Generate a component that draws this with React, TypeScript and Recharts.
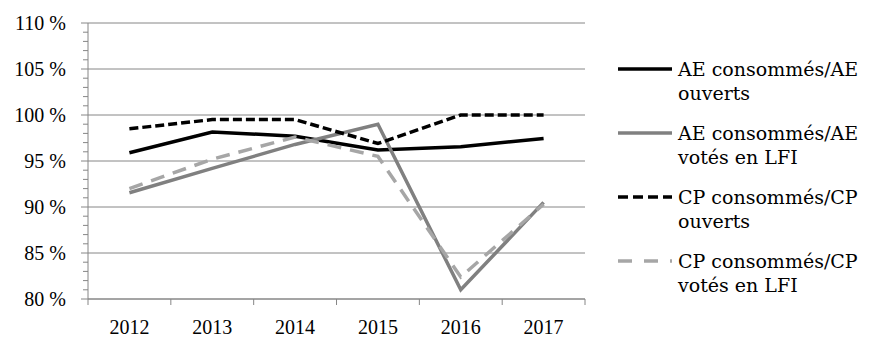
import React from 'react';
import { LineChart, Line, XAxis, YAxis, CartesianGrid, Legend } from 'recharts';

const years = ['2012', '2013', '2014', '2015', '2016', '2017'];
const aeOuverts = [95.9, 98.15, 97.7, 96.2, 96.55, 97.45];
const aeLfi = [91.55, 94.2, 96.8, 99.0, 81.0, 90.5];
const cpOuverts = [98.5, 99.5, 99.5, 96.9, 100.0, 100.0];
const cpLfi = [92.0, 95.2, 97.6, 95.5, 82.4, 90.3];
const majorTicks = [80, 85, 90, 95, 100, 105, 110];
const allTicks = Array.from({ length: 31 }, (_, i) => 80 + i);

const seriesNames = [
  ['AE consommés/AE', 'ouverts'],
  ['AE consommés/AE', 'votés en LFI'],
  ['CP consommés/CP', 'ouverts'],
  ['CP consommés/CP', 'votés en LFI'],
];

const data = years.map((y, i) => ({
  year: y,
  aeOuverts: aeOuverts[i],
  aeLfi: aeLfi[i],
  cpOuverts: cpOuverts[i],
  cpLfi: cpLfi[i],
}));

const AXIS_FONT = '"Liberation Serif", serif';
const LEGEND_FONT = '"DejaVu Serif", serif';
const GRID = '#868686';

const legendStyles = [
  { stroke: '#000000', dash: undefined },
  { stroke: '#808080', dash: undefined },
  { stroke: '#000000', dash: '10 5' },
  { stroke: '#a6a6a6', dash: '14 12' },
];

const YTick = (props: any) => {
  const { x, y, payload } = props;
  const v = payload.value;
  const axisX = x + 22;
  const major = v % 5 === 0;
  return (
    <g>
      <line x1={axisX - (major ? 7 : 5)} x2={axisX} y1={y} y2={y} stroke={GRID} strokeWidth={1} />
      {major && (
        <text x={x} y={y} dy="0.35em" textAnchor="end" fontFamily={AXIS_FONT} fontSize={20} fill="#000">
          {`${v} %`}
        </text>
      )}
    </g>
  );
};

const XTick = (props: any) => {
  const { x, y, payload, index, visibleTicksCount } = props;
  const half = 41.4;
  const axisY = y - 20;
  return (
    <g>
      <line x1={x - half} x2={x - half} y1={axisY} y2={axisY + 6} stroke={GRID} strokeWidth={1} />
      {index === visibleTicksCount - 1 && (
        <line x1={x + half} x2={x + half} y1={axisY} y2={axisY + 6} stroke={GRID} strokeWidth={1} />
      )}
      <text x={x} y={y} dy="0.75em" textAnchor="middle" fontFamily={AXIS_FONT} fontSize={20} fill="#000">
        {payload.value}
      </text>
    </g>
  );
};

const LegendContent = () => (
  <svg width={270} height={270} style={{ overflow: 'visible' }}>
    {seriesNames.map((lines, i) => {
      const cy = 19 + i * 64;
      const s = legendStyles[i];
      return (
        <g key={i}>
          <line x1={8} x2={62} y1={cy} y2={cy} stroke={s.stroke} strokeWidth={3.5} strokeDasharray={s.dash} />
          <text x={68} y={cy} dy="0.35em" fontFamily={LEGEND_FONT} fontSize={19} fill="#000">
            {lines[0]}
          </text>
          <text x={68} y={cy + 24} dy="0.35em" fontFamily={LEGEND_FONT} fontSize={19} fill="#000">
            {lines[1]}
          </text>
        </g>
      );
    })}
  </svg>
);

export default function App() {
  return (
    <div style={{ position: 'absolute', left: 0, top: 0, width: 883, height: 352, background: '#fff' }}>
      <LineChart
        width={883}
        height={352}
        data={data}
        margin={{ top: 23, right: 298, bottom: 13, left: 8 }}
      >
        <CartesianGrid horizontal vertical={false} stroke={GRID} horizontalValues={majorTicks} />
        <XAxis
          dataKey="year"
          height={40}
          padding={{ left: 41.4, right: 41.4 }}
          axisLine={{ stroke: GRID }}
          tickLine={false}
          tickSize={6}
          tickMargin={14}
          tick={<XTick />}
          interval={0}
        />
        <YAxis
          type="number"
          domain={[80, 110]}
          ticks={allTicks}
          interval={0}
          width={80}
          axisLine={{ stroke: GRID }}
          tickLine={false}
          tickSize={7}
          tickMargin={15}
          tick={<YTick />}
        />
        <Legend
          layout="vertical"
          align="center"
          verticalAlign="middle"
          wrapperStyle={{ position: 'absolute', left: 610, top: 50, width: 270, height: 270 }}
          content={<LegendContent />}
        />
        <Line dataKey="aeOuverts" stroke="#000000" strokeWidth={3.5} dot={false} isAnimationActive={false} />
        <Line dataKey="aeLfi" stroke="#808080" strokeWidth={3.5} dot={false} isAnimationActive={false} />
        <Line dataKey="cpOuverts" stroke="#000000" strokeWidth={3.5} strokeDasharray="9 4" dot={false} isAnimationActive={false} />
        <Line dataKey="cpLfi" stroke="#a6a6a6" strokeWidth={3.5} strokeDasharray="14 9" dot={false} isAnimationActive={false} />
      </LineChart>
    </div>
  );
}
